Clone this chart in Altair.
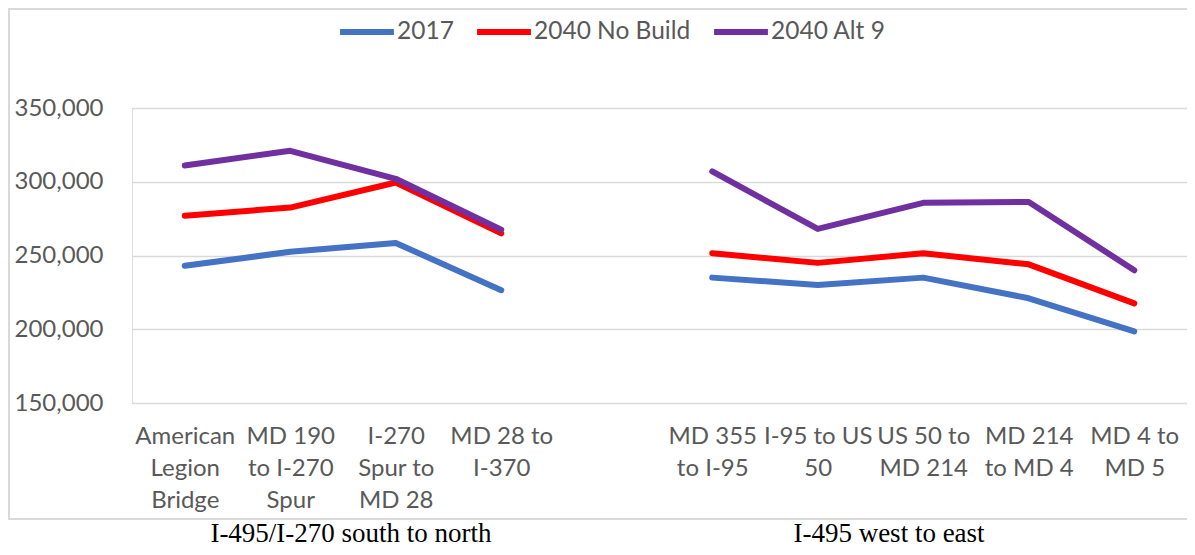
import altair as alt
import pandas as pd

categories = ["American|Legion|Bridge", "MD 190|to I-270|Spur", "I-270|Spur to|MD 28",
              "MD 28 to|I-370", " ", "MD 355|to I-95", "I-95 to US|50", "US 50 to|MD 214",
              "MD 214|to MD 4", "MD 4 to|MD 5"]
segment = [1, 1, 1, 1, None, 2, 2, 2, 2, 2]
series_names = ["2017", "2040 No Build", "2040 Alt 9"]
v2017 = [243000, 252500, 258500, 226500, None, 235000, 230000, 235000, 221000, 198500]
v2040_nobuild = [277000, 282500, 299500, 265000, None, 251500, 245000, 251500, 244000, 217500]
v2040_alt9 = [311000, 321000, 302000, 267500, None, 307000, 268000, 285700, 286300, 240000]
colors = ["#4472C4", "#FF0000", "#7030A0"]
y_ticks = [150000, 200000, 250000, 300000, 350000]
group_labels = ["I-495/I-270 south to north", "I-495 west to east"]

rows = []
for name, vals in zip(series_names, [v2017, v2040_nobuild, v2040_alt9]):
    for c, s, v in zip(categories, segment, vals):
        if v is None:
            continue
        rows.append({"cat": c, "series": name, "seg": f"{name}-{s}", "value": v})
df = pd.DataFrame(rows)

FONT = "Lato"
GREY = "#595959"
W, H = 1055, 295

lines = alt.Chart(df).mark_line(strokeWidth=6, strokeCap="round", strokeJoin="round").encode(
    x=alt.X("cat:N", sort=categories,
            scale=alt.Scale(domain=categories, type="point", padding=0.5),
            axis=alt.Axis(title=None, labelAngle=0, domain=False, ticks=False,
                          labelExpr="split(datum.label, '|')", labelFontSize=24,
                          labelFont=FONT, labelColor=GREY, labelLineHeight=32,
                          labelPadding=21, labelBaseline="top", grid=False)),
    y=alt.Y("value:Q", scale=alt.Scale(domain=[150000, 350000], nice=False, zero=False),
            axis=alt.Axis(title=None, values=y_ticks, format=",d", domain=False, ticks=False,
                          labelFontSize=24, labelFont=FONT, labelColor=GREY,
                          labelPadding=29, gridColor="#d9d9d9", gridWidth=1.5)),
    color=alt.Color("series:N", sort=series_names,
                    scale=alt.Scale(domain=series_names, range=colors),
                    legend=alt.Legend(title=None, orient="none", direction="horizontal",
                                      legendX=205, legendY=-106, symbolType="stroke",
                                      symbolStrokeWidth=6, symbolSize=2900,
                                      labelFont=FONT, labelFontSize=24.5, labelColor=GREY,
                                      labelOffset=0, columnPadding=11, padding=0)),
    detail="seg:N",
)

frame = alt.Chart(pd.DataFrame({"a": [0]})).mark_rect(
    fill="transparent", stroke="#d9d9d9", strokeWidth=2
).encode(x=alt.value(-123), x2=alt.value(W + 20), y=alt.value(-99), y2=alt.value(411))

lab_df = pd.DataFrame({"label": group_labels, "px": [219, 757]})
group_text = alt.Chart(lab_df).mark_text(
    font="Liberation Serif", fontSize=27, color="black", baseline="alphabetic", align="center"
).encode(x=alt.X("px:Q", scale=None), y=alt.value(434), text="label:N")

chart = alt.layer(frame, lines, group_text).properties(
    width=W, height=H,
    padding={"left": 124, "top": 100, "right": 0, "bottom": 144},
    autosize=alt.AutoSizeParams(type="none"),
).configure_view(stroke=None).configure(background="white")

chart.save("out.html", embed_options={"renderer": "svg", "actions": False})
